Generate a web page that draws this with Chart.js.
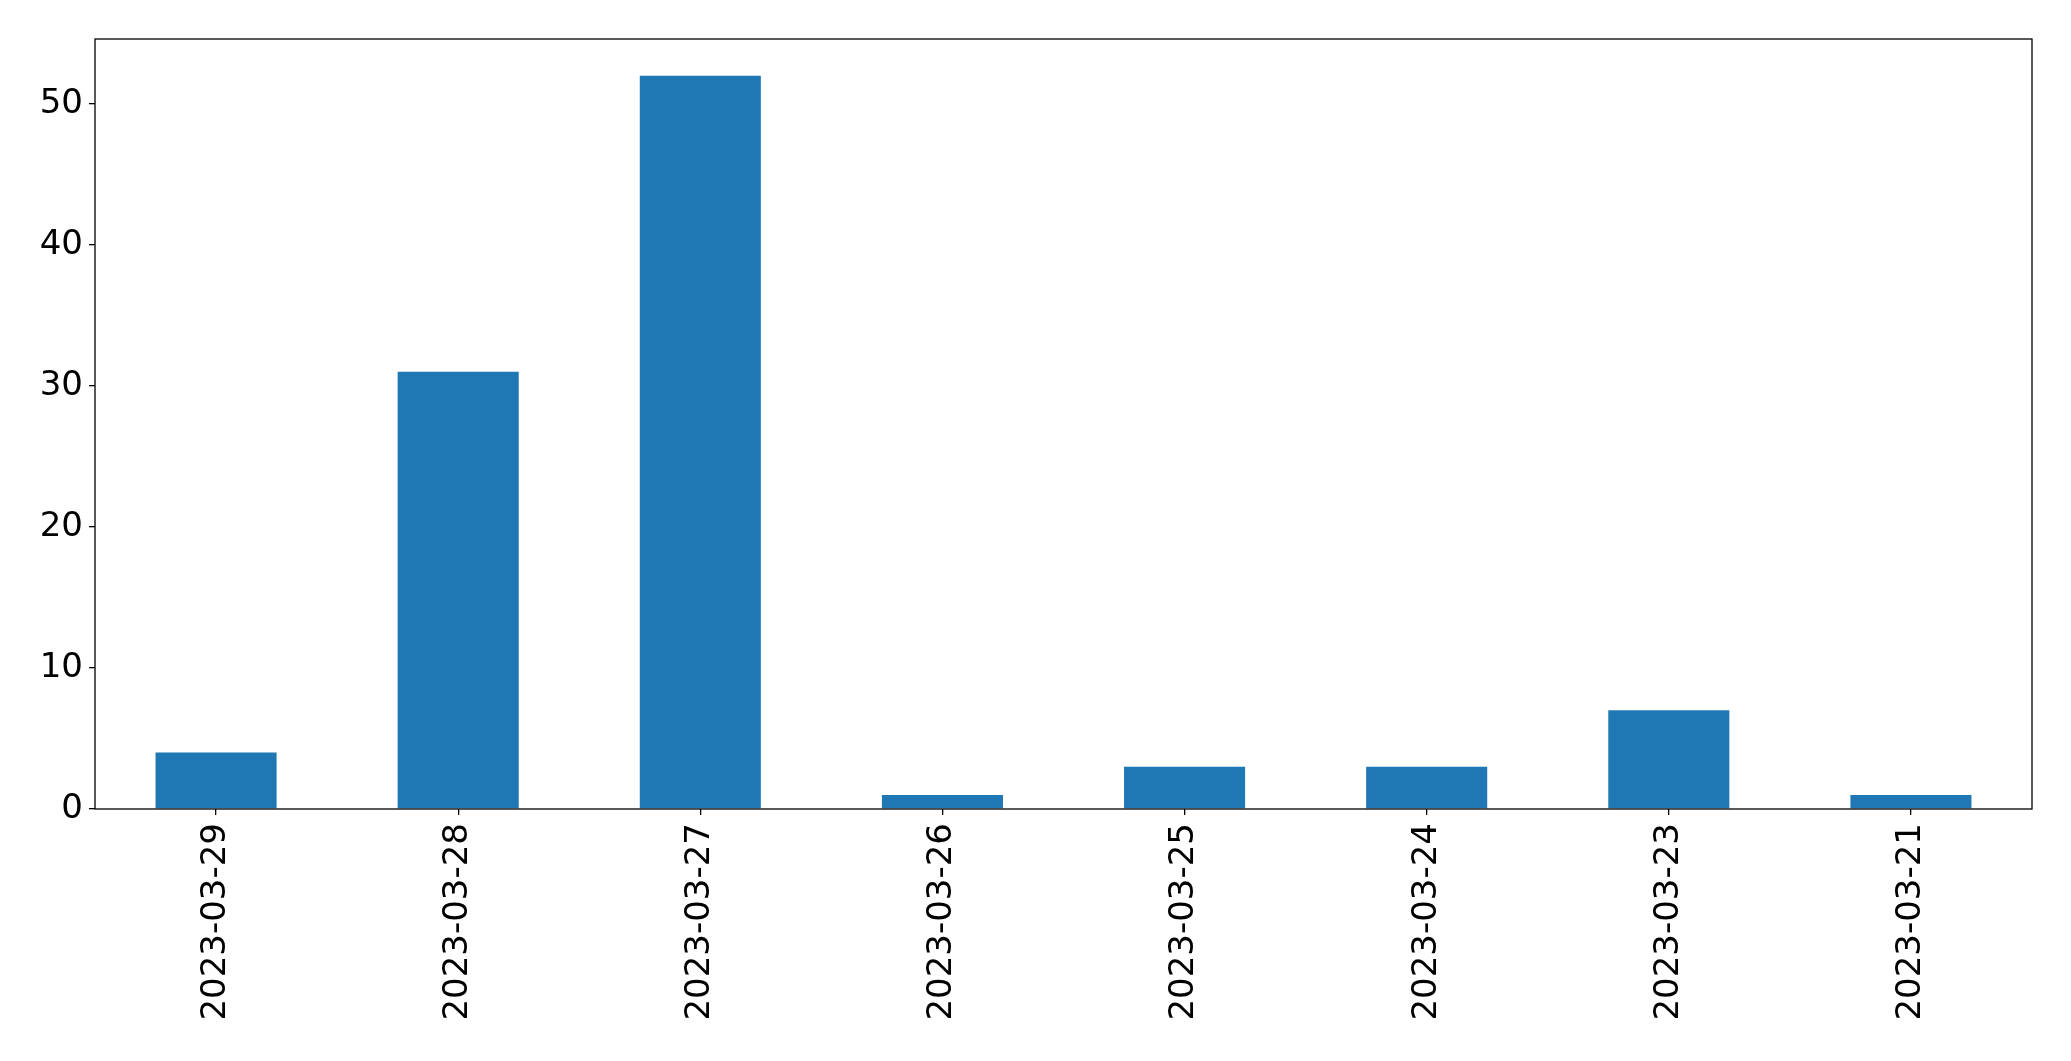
<!DOCTYPE html>
<html>
<head>
<meta charset="utf-8">
<script src="https://cdn.jsdelivr.net/npm/chart.js@4.4.0/dist/chart.umd.min.js"></script>
<style>
html,body{margin:0;padding:0;background:#fff;}
#wrap{width:2071px;height:1061px;position:relative;}
</style>
</head>
<body>
<div id="wrap"><canvas id="c" width="2071" height="1061"></canvas></div>
<script>
const categories = ["2023-03-29","2023-03-28","2023-03-27","2023-03-26","2023-03-25","2023-03-24","2023-03-23","2023-03-21"];
const counts = [4, 31, 52, 1, 3, 3, 7, 1];
const yTicks = [0, 10, 20, 30, 40, 50];
const yMax = 54.6;

const framePlugin = {
  id: 'frame',
  afterDatasetsDraw(chart) {
    const a = chart.chartArea, ctx = chart.ctx;
    ctx.save();
    ctx.strokeStyle = '#000';
    ctx.lineWidth = 1.3;
    ctx.strokeRect(a.left, a.top, a.right - a.left, a.bottom - a.top);
    ctx.restore();
  }
};

const font = {family: '"DejaVu Sans", sans-serif', size: 34};

new Chart(document.getElementById('c'), {
  type: 'bar',
  data: {
    labels: categories,
    datasets: [{
      data: counts,
      backgroundColor: '#1f77b4',
      borderWidth: 0,
      categoryPercentage: 1.0,
      barPercentage: 0.5
    }]
  },
  options: {
    responsive: false,
    animation: false,
    devicePixelRatio: 1,
    layout: {padding: {left: 0, top: 39, right: 39, bottom: 0}},
    plugins: {legend: {display: false}, tooltip: {enabled: false}},
    scales: {
      x: {
        grid: {display: true, drawOnChartArea: false, offset: false, tickLength: 6, color: '#000', tickColor: '#000', lineWidth: 1.3},
        border: {display: false},
        ticks: {font: font, color: '#000', minRotation: 90, maxRotation: 90, padding: 8, autoSkip: false},
        afterFit(scale) { scale.height = 252; }
      },
      y: {
        min: 0,
        max: yMax,
        grid: {display: true, drawOnChartArea: false, tickLength: 6, color: '#000', tickColor: '#000', lineWidth: 1.3},
        border: {display: false},
        ticks: {font: font, color: '#000', stepSize: 10, padding: 6, includeBounds: false},
        afterBuildTicks(scale) { scale.ticks = yTicks.map(v => ({value: v})); },
        afterFit(scale) { scale.width = 95; }
      }
    }
  },
  plugins: [framePlugin]
});
</script>
</body>
</html>
